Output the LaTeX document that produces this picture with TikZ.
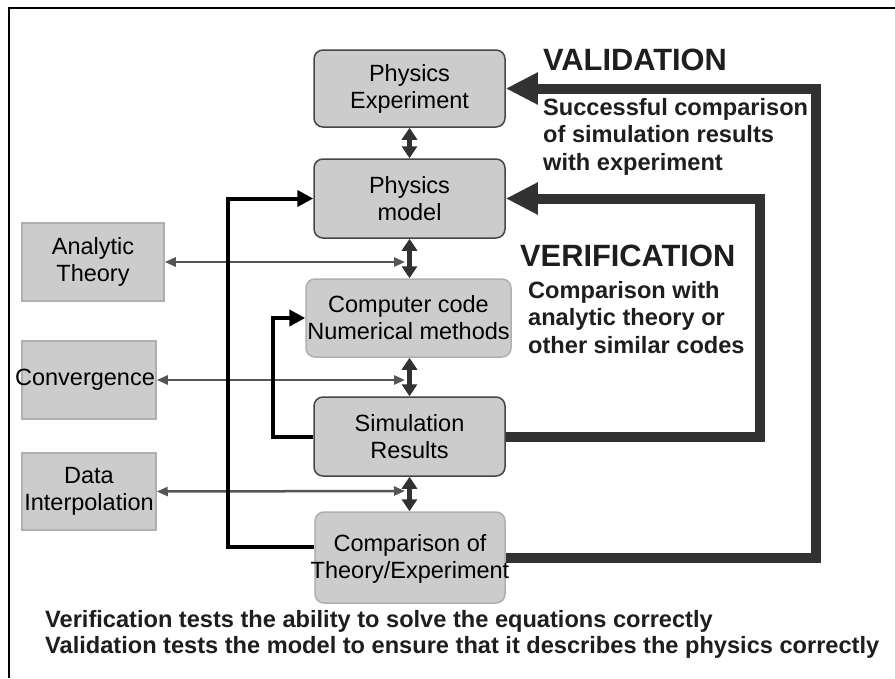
\documentclass[tikz,border=0pt]{standalone}
\usepackage{fontspec}
\setmainfont{Liberation Sans}
\usetikzlibrary{arrows.meta}
\definecolor{boxfill}{RGB}{204,204,204}
\definecolor{boxedge}{RGB}{70,70,70}
\definecolor{lightedge}{RGB}{175,175,175}
\definecolor{darkarrow}{RGB}{50,50,50}
\definecolor{thinarrow}{RGB}{85,85,85}
\definecolor{txtcol}{RGB}{30,30,30}
\newcommand{\dgboxfont}{\fontsize{23.5}{27}\selectfont}
\newcommand{\dgbodyfont}{\bfseries\fontsize{23.6}{27.5}\selectfont}
\newcommand{\dgheadfont}{\bfseries\fontsize{30.8}{34}\selectfont}
\begin{document}
\begin{tikzpicture}[x=1pt,y=-1pt,
  rbox/.style={draw=boxedge, line width=1.5pt, fill=boxfill, rounded corners=9pt, align=center, inner sep=0pt, font=\dgboxfont},
  rboxlight/.style={rbox, draw=lightedge},
  lbox/.style={draw=lightedge, line width=1.5pt, fill=boxfill, align=center, inner sep=0pt, font=\dgboxfont},
  btext/.style={align=center, inner sep=0pt, font=\dgboxfont},
  thinarr/.style={draw=thinarrow, line width=2.5pt, {Triangle[length=11pt,width=9pt]}-{Triangle[length=11pt,width=9pt]}},
  thickarr/.style={draw=darkarrow, line width=5.5pt, {Triangle[length=12pt,width=15pt]}-{Triangle[length=12pt,width=15pt]}},
  blackloop/.style={draw=black, line width=4pt, line join=miter, -{Triangle[length=16pt,width=16pt]}},
  bigloop/.style={draw=darkarrow, line width=10pt, line join=miter, -{Triangle[length=32pt,width=30pt]}},
  headtxt/.style={inner sep=0pt, font=\dgheadfont, text=txtcol},
  bodytxt/.style={inner sep=0pt, align=left, font=\dgbodyfont, text=txtcol}
]
\useasboundingbox (0,0) rectangle (895,678);
\fill[white] (0,0) rectangle (895,678);
% frame
\draw[line width=2pt] (9,678) -- (9,8) -- (895,8);

% central boxes
\node[rbox, minimum width=191, minimum height=77] (pe) at (409.5,88.5) {Physics\\Experiment};
\node[rbox, minimum width=191, minimum height=79] (pm) at (409.5,198.5) {Physics\\model};
\node[rboxlight, minimum width=205, minimum height=78] (cc) at (408.5,318) {Computer code\\Numerical methods};
\node[rbox, minimum width=191, minimum height=79] (sr) at (409.5,436.5) {Simulation\\Results};
\node[rboxlight, minimum width=190, minimum height=91] (ct) at (410,557.5) {};
\node[btext] (cttext) at (410,558.5) {Comparison of\\Theory/Experiment};

% left boxes
\node[lbox, minimum width=142, minimum height=78] (at) at (93,262) {Analytic\\Theory};
\node[lbox, minimum width=134, minimum height=78] (cv) at (89,380) {};
\node[btext] (cvtext) at (85,380) {Convergence};
\node[lbox, minimum width=134, minimum height=77] (di) at (89,491.5) {Data\\Interpolation};

% thin double arrows
\coordinate (atR) at (405,262);
\coordinate (cvR) at (405,380);
\coordinate (diR) at (405,491);
\draw[thinarr] (at.east) -- (atR);
\draw[thinarr] (cv.east) -- (cvR);
\draw[thinarr] (di.east) -- (diR);

% thick vertical double arrows
\draw[thickarr] (pe.south) -- (pm.north);
\draw[thickarr] (pm.south) -- (pm.south |- cc.north);
\draw[thickarr] (sr.north |- cc.south) -- (sr.north);
\draw[thickarr] (sr.south) -- (sr.south |- ct.north);

% black loops
\coordinate (ol) at (228,198.5);
\draw[blackloop] ([yshift=10.5pt]ct.west) -| (ol) -- (pm.west);
\coordinate (il) at (273,318);
\draw[blackloop] (sr.west) -| (il) -- (cc.west);

% verification and validation loops
\coordinate (vr) at (760,198.5);
\draw[bigloop] (sr.east) -| (vr) -- (pm.east);
\coordinate (va) at (816,88.5);
\draw[bigloop] (ct.east) -| (va) -- (pe.east);

% texts
\node[headtxt, anchor=base west] (valh) at (543,70) {VALIDATION};
\node[bodytxt, anchor=north west] (valt) at (543,98) {Successful comparison\\of simulation results\\with experiment};
\node[headtxt, anchor=base west] (verh) at (520,266) {VERIFICATION};
\node[bodytxt, anchor=north west] (vert) at (528,281) {Comparison with\\analytic theory or\\other similar codes};
\node[bodytxt, anchor=north west, font=\bfseries\fontsize{23.6}{26}\selectfont] (bot) at (45,610) {Verification tests the ability to solve the equations correctly\\Validation tests the model to ensure that it describes the physics correctly};
\end{tikzpicture}
\end{document}
